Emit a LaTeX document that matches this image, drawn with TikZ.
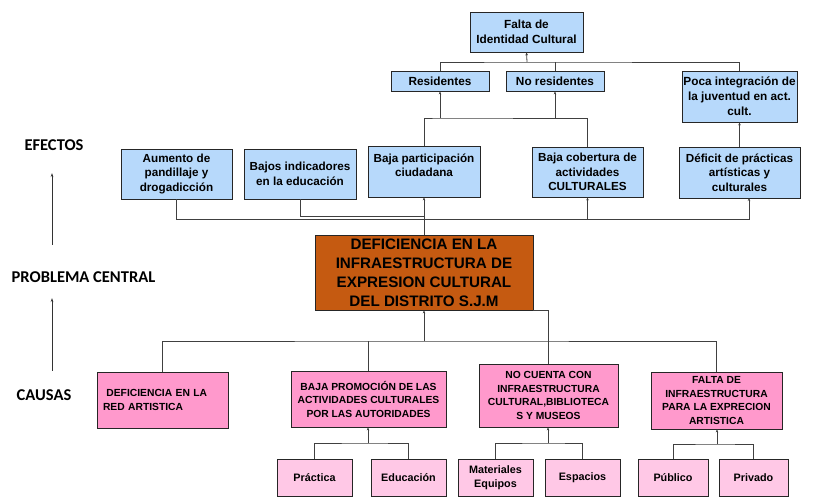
\documentclass[tikz,border=0pt]{standalone}
\usepackage{fontspec}
\setmainfont{Liberation Sans}
\newfontfamily\labelfont{Carlito}
\usetikzlibrary{arrows.meta}
\definecolor{effblue}{HTML}{B7D9FB}
\definecolor{centralor}{HTML}{C55A11}
\definecolor{causepink}{HTML}{FF99CC}
\definecolor{subpink}{HTML}{FFC8E6}
\definecolor{linegray}{HTML}{404040}
\tikzset{
  box/.style={draw=black!85, line width=0.8pt, inner sep=1pt, align=center, font=\bfseries},
  effbox/.style={box, fill=effblue, font=\fontsize{11.7}{14.5}\selectfont\bfseries},
  topbox/.style={box, fill=effblue, font=\fontsize{11.8}{15}\selectfont\bfseries},
  centralbox/.style={box, fill=centralor, font=\fontsize{15.2}{19}\selectfont\bfseries},
  causebox/.style={box, fill=causepink, font=\fontsize{10.3}{13.5}\selectfont\bfseries},
  subbox/.style={box, fill=subpink, font=\fontsize{10.8}{13.5}\selectfont\bfseries},
  conn/.style={draw=linegray, line width=0.8pt},
  tip/.style={conn, -{Stealth[length=3pt,width=2.5pt]}},
  sidelabel/.style={font=\labelfont\bfseries\fontsize{16.5}{19}\selectfont, text=black},
  sidearrow/.style={draw=black!80, line width=0.6pt, -{Stealth[length=4pt,width=2.5pt]}}
}
\begin{document}
\begin{tikzpicture}[x=1pt,y=-1pt]
\useasboundingbox (0,0) rectangle (830,502);
\fill[white] (0,0) rectangle (830,502);

% side labels
\node[sidelabel] (efe) at (54,145) {EFECTOS};
\node[sidelabel] (prob) at (83.5,277) {PROBLEMA CENTRAL};
\node[sidelabel] (cau) at (44,395) {CAUSAS};
\coordinate (a1s) at (52,245);
\coordinate (a1e) at (52,173);
\coordinate (a2s) at (52,371);
\coordinate (a2e) at (52,298);
\draw[sidearrow] (a1s) -- (a1e);
\draw[sidearrow] (a2s) -- (a2e);

% top level
\node[topbox, minimum width=113, minimum height=40] (falta) at (526.5,32) {Falta de\\Identidad Cultural};
\node[topbox, minimum width=98, minimum height=20] (resid) at (440,81) {Residentes};
\node[topbox, minimum width=98, minimum height=20] (nores) at (555,81) {No residentes};
\node[topbox, minimum width=115, minimum height=51, inner sep=0pt] (poca) at (739.5,96.5) {Poca integración de\\la juventud en act.\\cult.};

% effects
\node[effbox, minimum width=111, minimum height=50] (aum) at (176.5,174) {Aumento de\\pandillaje y\\drogadicción};
\node[effbox, minimum width=112, minimum height=50] (bajind) at (300,174) {Bajos indicadores\\en la educación};
\node[effbox, minimum width=112, minimum height=51] (bajpar) at (424,171.5) {Baja participación\\ciudadana\\[-2pt]\mbox{}};
\node[effbox, minimum width=111, minimum height=50] (bajcob) at (587.5,172) {Baja cobertura de\\actividades\\CULTURALES};
\node[effbox, minimum width=121, minimum height=51] (defi) at (739.5,172.5) {Déficit de prácticas\\artísticas y\\culturales};

% central
\node[centralbox, minimum width=218, minimum height=75] (central) at (424,272.5) {DEFICIENCIA EN LA\\INFRAESTRUCTURA DE\\EXPRESION CULTURAL\\DEL DISTRITO S.J.M};

% causes
\node[causebox, minimum width=131, minimum height=56, align=left, text width=119, inner xsep=6pt] (c1) at (162.5,400) {\ DEFICIENCIA EN LA\\RED ARTISTICA};
\node[causebox, minimum width=155, minimum height=56] (c2) at (368.5,399) {BAJA PROMOCIÓN DE LAS\\ACTIVIDADES CULTURALES\\POR LAS AUTORIDADES};
\node[causebox, minimum width=139, minimum height=63] (c3) at (548.5,395.5) {NO CUENTA CON\\INFRAESTRUCTURA\\CULTURAL,BIBLIOTECA\\S Y MUSEOS};
\node[causebox, minimum width=131, minimum height=57] (c4) at (716.5,400.5) {FALTA DE\\INFRAESTRUCTURA\\PARA LA EXPRECION\\ARTISTICA};

% sub causes
\node[subbox, minimum width=75, minimum height=37] (prac) at (314.5,477.5) {Práctica};
\node[subbox, minimum width=75, minimum height=37] (educ) at (408.5,477.5) {Educación};
\node[subbox, minimum width=75, minimum height=37] (mat) at (495.5,477.5) {Materiales\\Equipos};
\node[subbox, minimum width=75, minimum height=37] (esp) at (582.5,477.5) {Espacios};
\node[subbox, minimum width=70, minimum height=37] (pub) at (673,477.5) {Público};
\node[subbox, minimum width=69, minimum height=37] (priv) at (753.5,477.5) {Privado};

% connectors: top
\coordinate (bt) at (527,62);
\draw[conn] (resid.north) |- (bt) -| (poca.north);
\draw[conn] (nores.north) -- (nores.north |- bt);
\draw[tip] (bt) -- (falta.south);

\coordinate (br) at (440,118);
\draw[conn] (bajpar.north) |- (br) -| (bajcob.north);
\draw[tip] (br) -- (resid.south);
\draw[tip] (nores.south |- br) -- (nores.south);
\draw[tip] (defi.north) -- (poca.south);

% connectors: effects to central
\coordinate (be) at (424,219);
\coordinate (bi) at (424,216);
\coordinate (dfb) at (749,198);
\draw[conn] (aum.south) |- (be);
\draw[conn] (bajind.south) |- (bi);
\draw[tip] (central.north) -- (bajpar.south);
\draw[tip] (be) -| (bajcob.south);
\draw[tip] (be) -| (dfb);

% connectors: causes to central
\coordinate (bc) at (424,341);
\draw[tip] (bc) -- (central.south);
\draw[conn] (c1.north) |- (bc) -| (c4.north);
\draw[conn] (c2.north) -- (c2.north |- bc);
\draw[conn] (central.south east) -- (central.south east -| c3.north) -- (c3.north);

% sub causes
\coordinate (s2) at (368,443);
\draw[conn] (prac.north) |- (s2) -| (educ.north);
\draw[tip] (s2) -- (s2 |- c2.south);
\coordinate (s3) at (548,443);
\draw[conn] (mat.north) |- (s3) -| (esp.north);
\draw[tip] (s3) -- (s3 |- c3.south);
\coordinate (s4) at (717,444);
\draw[conn] (pub.north) |- (s4) -| (priv.north);
\draw[tip] (s4) -- (s4 |- c4.south);
\end{tikzpicture}
\end{document}
